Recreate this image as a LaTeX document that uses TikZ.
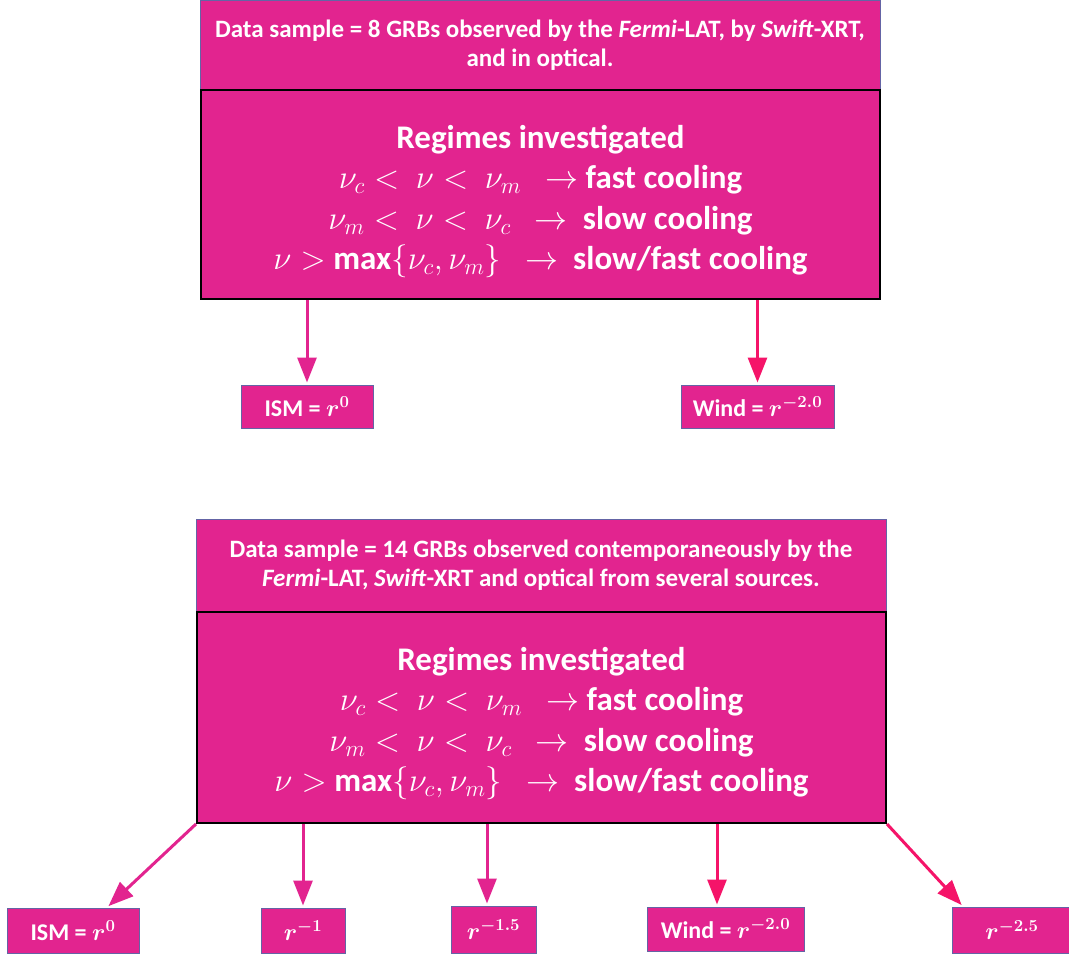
\RequirePackage{fix-cm}
\documentclass[tikz,border=0pt]{standalone}
\usepackage{fontspec}
\setmainfont{Carlito}
\usetikzlibrary{arrows.meta,calc}
\definecolor{mag}{RGB}{226,36,143}
\definecolor{magred}{RGB}{245,20,105}
\definecolor{edgeblue}{RGB}{100,100,165}
\begin{document}
\begin{tikzpicture}[x=1pt,y=-1pt,
 box/.style={draw=edgeblue,line width=1pt,fill=mag,text=white,align=center,inner sep=0pt,anchor=center},
 hdr/.style={box,font=\fontsize{25}{29}\selectfont\bfseries},
 mainbox/.style={box,draw=black,line width=2pt,font=\fontsize{33}{40.5}\selectfont\bfseries},
 leaf/.style={box,font=\fontsize{24}{28}\selectfont\bfseries\boldmath},
 arr/.style={line width=3pt,draw=mag,-{Triangle[width=19pt,length=25pt]},shorten >=2pt},
 arrr/.style={arr,draw=magred},
]
\useasboundingbox (0,0) rectangle (1069,955);
\fill[white] (0,0) rectangle (1069,955);

% ---------- top diagram ----------
\node[hdr,minimum width=680pt,minimum height=89.5pt] (hdr1) at (540,45.25)
 {Data sample = 8 GRBs observed by the \textit{Fermi}-LAT, by \textit{Swift}-XRT,\\ and in optical.};
\node[mainbox,minimum width=679pt,minimum height=209pt] (main1) at (540.5,194.5)
 {\rule{0pt}{37pt}Regimes investigated\\
  $\nu_c <\ \nu <\ \nu_m\ \ \rightarrow$ fast cooling\\
  $\nu_m <\ \nu <\ \nu_c\ \ \rightarrow$\ \ slow cooling\\
  $\nu >$ max$\{\nu_c, \nu_m\}\ \ \rightarrow$\ \ slow/fast cooling};
\node[leaf,minimum width=132pt,minimum height=43pt] (ism1) at (307,406.5) {ISM = $r^{0}$};
\node[leaf,minimum width=153pt,minimum height=43pt] (wind1) at (757.5,406.5) {Wind = $r^{-2.0}$};
\draw[arr] (ism1.north |- main1.south) -- (ism1.north);
\draw[arrr] (wind1.north |- main1.south) -- (wind1.north);

% ---------- bottom diagram ----------
\node[hdr,minimum width=690pt,minimum height=93pt] (hdr2) at (541,565.5)
 {Data sample = 14 GRBs observed contemporaneously by the\\ \textit{Fermi}-LAT, \textit{Swift}-XRT and optical from several sources.};
\node[mainbox,minimum width=689pt,minimum height=211pt] (main2) at (541.5,717.5)
 {\rule{0pt}{35pt}Regimes investigated\\
  $\nu_c <\ \nu <\ \nu_m\ \ \rightarrow$ fast cooling\\
  $\nu_m <\ \nu <\ \nu_c\ \ \rightarrow$\ \ slow cooling\\
  $\nu >$ max$\{\nu_c, \nu_m\}\ \ \rightarrow$\ \ slow/fast cooling};
\node[leaf,minimum width=132pt,minimum height=45pt] (b1) at (73,930.5) {ISM = $r^{0}$};
\node[leaf,minimum width=84pt,minimum height=45pt] (b2) at (303,930.5) {$r^{-1}$};
\node[leaf,minimum width=85pt,minimum height=47pt] (b3) at (493.5,929.5) {$r^{-1.5}$};
\node[leaf,minimum width=157pt,minimum height=44pt] (b4) at (725.5,929) {Wind = $r^{-2.0}$};
\node[leaf,minimum width=120pt,minimum height=46pt] (b5) at (1012,930) {$r^{-2.5}$};

\draw[arr] (main2.south west) -- ([xshift=34pt]b1.north);
\draw[arr] (b2.north |- main2.south) -- (b2.north);
\draw[arr] ([xshift=-6.5pt]b3.north |- main2.south) -- ([xshift=-6.5pt]b3.north);
\draw[arrr] ([xshift=-8.5pt]b4.north |- main2.south) -- ([xshift=-8.5pt]b4.north);
\draw[arrr] (main2.south east) -- ([xshift=-49pt]b5.north);
\end{tikzpicture}
\end{document}
